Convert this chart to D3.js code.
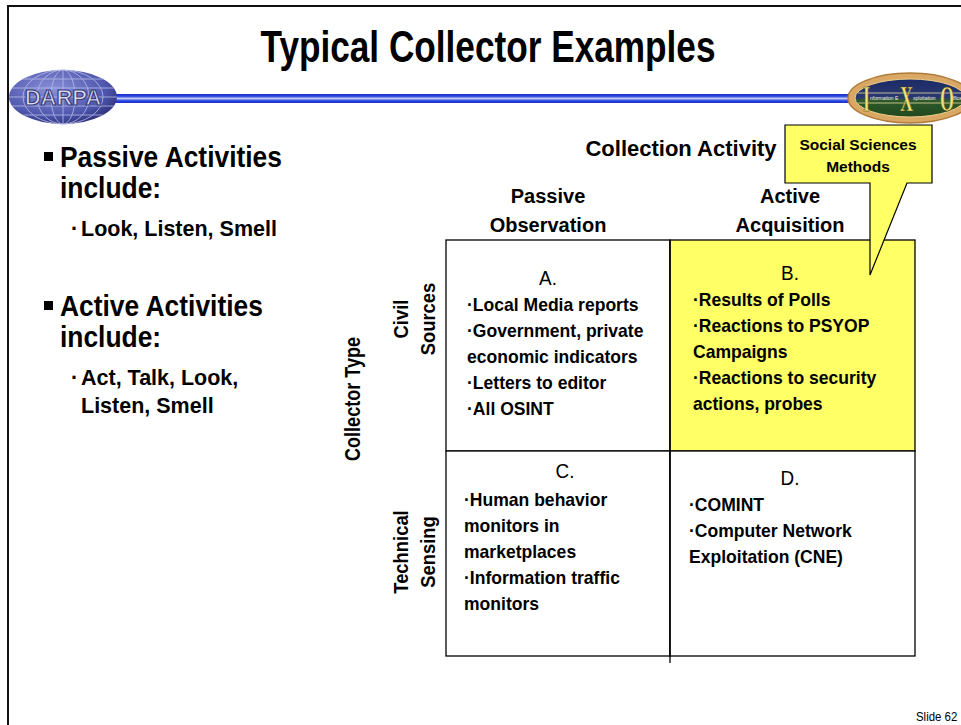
<!DOCTYPE html>
<html><head><meta charset="utf-8">
<script src="https://cdn.jsdelivr.net/npm/d3@7"></script>
<style>
html,body{margin:0;padding:0;background:#fff;}
svg{display:block;}
text{font-family:"Liberation Sans Narrow","Arial Narrow","Liberation Sans",Arial,sans-serif;font-weight:bold;fill:#000;}
</style></head>
<body>
<script>
// ---- data ----
const title = "Typical Collector Examples";
const leftBullets = [
  {head: ["Passive Activities", "include:"], sub: [["·", "Look, Listen, Smell"]]},
  {head: ["Active Activities", "include:"], sub: [["·", "Act, Talk, Look,"], ["", "Listen, Smell"]]}
];
const axisTitleX = "Collection Activity";
const axisTitleY = "Collector Type";
const colLabels = [["Passive", "Observation"], ["Active", "Acquisition"]];
const rowLabels = [["Civil", "Sources"], ["Technical", "Sensing"]];
const cellKeys = ["A.", "B.", "C.", "D."];
const cellLines = [
  ["·Local Media reports", "·Government, private", "economic indicators", "·Letters to editor", "·All OSINT"],
  ["·Results of Polls", "·Reactions to PSYOP", "Campaigns", "·Reactions to security", "actions, probes"],
  ["·Human behavior", "monitors in", "marketplaces", "·Information traffic", "monitors"],
  ["·COMINT", "·Computer Network", "Exploitation (CNE)"]
];
const highlighted = ["B."];
const calloutText = ["Social Sciences", "Methods"];
const slideNo = "Slide 62";

// ---- drawing ----
const W = 961, H = 725;
const svg = d3.select("body").append("svg").attr("width", W).attr("height", H);
const defs = svg.append("defs");

function txt(g, x, y, s, size, o = {}) {
  const t = g.append("text")
    .attr("transform", `translate(${x},${y})${o.rot ? ` rotate(${o.rot})` : ""} scale(${o.sx || 1},1)`)
    .attr("text-anchor", o.anchor || "start")
    .style("font-size", size + "px")
    .text(s);
  if (o.dy) t.attr("dy", o.dy);
  if (o.weight) t.style("font-weight", o.weight);
  if (o.family) t.style("font-family", o.family);
  if (o.fill) t.style("fill", o.fill);
  return t;
}

// slide frame
svg.append("line").attr("x1", 7).attr("x2", W).attr("y1", 6).attr("y2", 6).attr("stroke", "#111").attr("stroke-width", 2);
svg.append("line").attr("x1", 8).attr("x2", 8).attr("y1", 6).attr("y2", H).attr("stroke", "#111").attr("stroke-width", 2);

// title
txt(svg, 488, 62, title, 44, {anchor: "middle", sx: 0.8});

// blue rule
const ruleG = defs.append("linearGradient").attr("id", "rule").attr("x1", 0).attr("x2", 0).attr("y1", 0).attr("y2", 1);
[["0", "#1a2fd0"], ["0.25", "#2a44dc"], ["0.5", "#c0ccf6"], ["0.75", "#2a44dc"], ["1", "#1a2fd0"]]
  .forEach(([o, c]) => ruleG.append("stop").attr("offset", o).attr("stop-color", c));
svg.append("rect").attr("x", 114).attr("y", 94).attr("width", 740).attr("height", 9).attr("fill", "url(#rule)");

// DARPA logo
const dg = defs.append("radialGradient").attr("id", "darpa").attr("cx", "40%").attr("cy", "35%").attr("r", "70%");
dg.append("stop").attr("offset", "0").attr("stop-color", "#8a90d8");
dg.append("stop").attr("offset", "0.7").attr("stop-color", "#4f57ae");
dg.append("stop").attr("offset", "1").attr("stop-color", "#2c2f78");
const dl = svg.append("g").attr("transform", "translate(63,97)");
dl.append("ellipse").attr("rx", 54).attr("ry", 27).attr("fill", "url(#darpa)");
const grid = dl.append("g").attr("stroke", "#b8bde8").attr("stroke-width", 1).attr("fill", "none").attr("opacity", 0.8);
[-18, -9, 0, 9, 18].forEach(y => {
  const hw = 54 * Math.sqrt(Math.max(0, 1 - (y / 27) ** 2));
  grid.append("line").attr("x1", -hw).attr("x2", hw).attr("y1", y).attr("y2", y);
});
[12, 26, 40].forEach(rx => grid.append("ellipse").attr("rx", rx).attr("ry", 27));
grid.append("line").attr("x1", 0).attr("x2", 0).attr("y1", -27).attr("y2", 27);
txt(dl, 0, 8, "DARPA", 22, {anchor: "middle", family: "'Liberation Sans',Arial,sans-serif", fill: "#dcdcec"})
  .attr("stroke", "#3a3d80").attr("stroke-width", 1.2);

// IXO logo
const il = svg.append("g").attr("transform", "translate(910,98)");
const ig = defs.append("linearGradient").attr("id", "ixo").attr("x1", 0).attr("x2", 0).attr("y1", 0).attr("y2", 1);
[["0", "#1c2a66"], ["0.5", "#2a3a70"], ["0.55", "#2d5a2a"], ["1", "#22481f"]]
  .forEach(([o, c]) => ig.append("stop").attr("offset", o).attr("stop-color", c));
il.append("ellipse").attr("rx", 62).attr("ry", 25).attr("fill", "#d9a865").attr("stroke", "#b07a3a").attr("stroke-width", 1.5);
il.append("ellipse").attr("rx", 55).attr("ry", 19).attr("fill", "url(#ixo)").attr("stroke", "#f0d08a").attr("stroke-width", 1);
il.append("line").attr("x1", -52).attr("x2", 52).attr("y1", -5).attr("y2", -5).attr("stroke", "#e9d9a0").attr("stroke-width", 0.8);
il.append("line").attr("x1", -52).attr("x2", 52).attr("y1", 5).attr("y2", 5).attr("stroke", "#e9d9a0").attr("stroke-width", 0.8);
[["I", -47], ["X", -10], ["O", 30]].forEach(([s, x]) =>
  txt(il, x, 13, s, 36, {anchor: "start", sx: 0.5, weight: "bold", family: "'Liberation Serif',serif", fill: "#f2e27a"})
    .attr("stroke", "#4a3a08").attr("stroke-width", 0.6));
[["nformation E", -40], ["xploitation", 3], ["ffice", 43]].forEach(([s, x]) =>
  txt(il, x, 2, s, 5, {family: "'Liberation Sans',Arial,sans-serif", weight: "normal", fill: "#f4f4e0"}));

// left bullets
const lb = svg.append("g");
const bulletY = [167, 316];
leftBullets.forEach((b, i) => {
  const y0 = bulletY[i];
  lb.append("rect").attr("x", 44).attr("y", y0 - 15).attr("width", 9).attr("height", 9).attr("fill", "#000");
  b.head.forEach((t, j) => txt(lb, 60, y0 + j * 31, t, 29, {sx: 0.91}));
  b.sub.forEach(([dot, t], j) => {
    if (dot) txt(lb, 71, y0 + 69 + j * 28, dot, 21.5);
    txt(lb, 81, y0 + 69 + j * 28, t, 21.5);
  });
});

// matrix
const colEdges = [[446, 670], [670, 915]];
const rowEdges = [[240, 451], [451, 656]];
const cellData = cellKeys.map((k, i) => ({key: k, lines: cellLines[i], c: i % 2, r: Math.floor(i / 2)}));
const m = svg.append("g");
m.selectAll("rect.cell").data(cellData).join("rect").attr("class", "cell")
  .attr("x", d => colEdges[d.c][0]).attr("y", d => rowEdges[d.r][0])
  .attr("width", d => colEdges[d.c][1] - colEdges[d.c][0]).attr("height", d => rowEdges[d.r][1] - rowEdges[d.r][0])
  .attr("fill", d => highlighted.includes(d.key) ? "#ffff66" : "#fff")
  .attr("stroke", "#000").attr("stroke-width", 1.3);
m.append("line").attr("x1", 670).attr("x2", 670).attr("y1", 240).attr("y2", 663).attr("stroke", "#000").attr("stroke-width", 1.3);

const keyPos = [{x: 548, y: 285}, {x: 790, y: 280}, {x: 565, y: 478}, {x: 790, y: 485}];
const linePos = [{x: 467, y: 311}, {x: 693, y: 306}, {x: 464, y: 506}, {x: 689, y: 511}];
cellData.forEach((d, i) => {
  txt(m, keyPos[i].x, keyPos[i].y, d.key, 21, {anchor: "middle", weight: "normal", sx: 0.9});
  d.lines.forEach((t, j) => txt(m, linePos[i].x, linePos[i].y + j * 26, t, 18, {sx: 0.975}));
});

// column headers
txt(svg, 681, 156, axisTitleX, 22, {anchor: "middle"});
const colCenters = [548, 790];
colLabels.forEach((ls, i) => ls.forEach((t, j) =>
  txt(svg, colCenters[i], 203 + j * 29, t, 20, {anchor: "middle"})));

// row headers (rotated)
txt(svg, 352, 399, axisTitleY, 22, {anchor: "middle", rot: -90, sx: 0.82, dy: "0.35em"});
const rowCenters = [319, 552];
rowLabels.forEach((ls, i) => ls.forEach((t, j) =>
  txt(svg, 401 + j * 27, rowCenters[i], t, 20, {anchor: "middle", rot: -90, sx: 0.92, dy: "0.35em"})));

// callout
const co = svg.append("g");
co.append("path").attr("d", "M785,125 L932,125 L932,183 L907,183 L870,275 L870,183 L785,183 Z")
  .attr("fill", "#ffff66").attr("stroke", "#000").attr("stroke-width", 1.2);
calloutText.forEach((t, j) => txt(co, 858, 150 + j * 22, t, 15.5, {anchor: "middle"}));

// slide number
txt(svg, 916, 721, slideNo, 13, {weight: "normal", family: "'Liberation Sans',Arial,sans-serif", sx: 0.88});
</script>
</body></html>
